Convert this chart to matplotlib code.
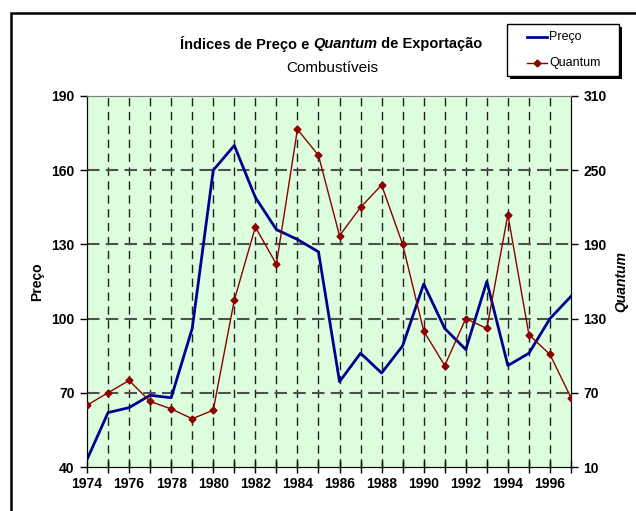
import matplotlib
matplotlib.use("Agg")
import matplotlib.pyplot as plt
from matplotlib.patches import Rectangle
from matplotlib.lines import Line2D

plt.rcParams['font.family'] = ['Liberation Sans', 'DejaVu Sans']

years = list(range(1974, 1998))
preco = [43, 62, 64, 69, 68, 96, 160, 170, 149, 136, 132, 127,
         74.5, 86, 78, 89, 114, 96, 87.5, 115, 81, 86, 100, 109]
quantum = [60, 70, 80, 63, 57, 49, 56, 145, 204, 174, 283, 262,
           197, 220, 238, 190, 120, 92, 130, 122, 214, 117, 101, 66]
left_ticks = [40, 70, 100, 130, 160, 190]
right_ticks = [10, 70, 130, 190, 250, 310]
xlabels = list(range(1974, 1998, 2))

W, H = 636, 511
fig = plt.figure(figsize=(W/100, H/100), dpi=100)
fig.patch.set_facecolor('white')

# outer frame
fig.patches.append(Rectangle((11/W, -0.05), 1.2, (H-13)/H + 0.05, transform=fig.transFigure,
                             fill=False, edgecolor='black', linewidth=1.8))

L, R, T, B = 87, 571, 96, 467
ax = fig.add_axes([L/W, 1-B/H, (R-L)/W, (B-T)/H])
ax.set_facecolor('#DDFEDD')
ax.set_xlim(1974, 1997)
ax.set_ylim(40, 190)
ax2 = ax.twinx()
ax2.set_ylim(10, 310)

# gridlines
for yr in years[1:-1]:
    ax.plot([yr, yr], [40, 190], color='#202020', linestyle=(0, (6, 4)), linewidth=1, zorder=1)
for v in left_ticks[1:-1]:
    ax.plot([1974, 1997], [v, v], color='#505050', linestyle=(0, (6, 3)), linewidth=1.5, zorder=1)

ax.plot(years, preco, color='#000090', linewidth=2, zorder=3)
ax2.plot(years, quantum, color='#8B0000', linewidth=1, marker='D', markersize=3.5, zorder=3)

fs = 10
ax.set_xticks(years)
ax.set_xticklabels([str(y) if y in xlabels else '' for y in years], fontweight='bold', fontsize=fs)
ax.set_yticks(left_ticks)
ax.set_yticklabels([str(v) for v in left_ticks], fontweight='bold', fontsize=fs)
ax2.set_yticks(right_ticks)
ax2.set_yticklabels([str(v) for v in right_ticks], fontweight='bold', fontsize=fs)
ax.tick_params(axis='x', direction='inout', length=8, width=1, pad=3)
ax.tick_params(axis='y', direction='out', length=5, width=1, pad=4)
ax2.tick_params(axis='y', direction='out', length=5, width=1, pad=4)

for a in (ax, ax2):
    a.spines['top'].set_color('#808080')
    a.spines['left'].set_color('black')
    a.spines['bottom'].set_color('black')
    a.spines['right'].set_color('black')

fig.text(37/W, 1-282/H, 'Preço', rotation=90, fontweight='bold', fontsize=fs, ha='center', va='center')
fig.text(621/W, 1-282/H, 'Quantum', rotation=90, fontweight='bold', style='italic', fontsize=fs, ha='center', va='center')

# title built from pieces
parts = [('Índices de Preço e ', 'normal'), ('Quantum', 'italic'), (' de Exportação', 'normal')]
tfs = 10.5
renderer = fig.canvas.get_renderer()
texts = []
widths = []
for s, st in parts:
    t = fig.text(0, 1-44/H, s, fontweight='bold', style=st, fontsize=tfs, ha='left', va='center')
    bb = t.get_window_extent(renderer=renderer)
    texts.append(t)
    widths.append(bb.width)
total = sum(widths)
x = 331 - total/2
for t, w in zip(texts, widths):
    t.set_x(x/W)
    x += w
fig.text(332/W, 1-68/H, 'Combustíveis', fontsize=11, ha='center', va='center')

# legend box
lx0, ly0, lx1, ly1 = 507, 24, 619, 76
fig.patches.append(Rectangle(((lx0+3)/W, 1-(ly1+3)/H), (lx1-lx0)/W, (ly1-ly0)/H, transform=fig.transFigure,
                             facecolor='black', edgecolor='black', linewidth=0))
fig.patches.append(Rectangle((lx0/W, 1-ly1/H), (lx1-lx0)/W, (ly1-ly0)/H, transform=fig.transFigure,
                             facecolor='white', edgecolor='black', linewidth=1))
fig.lines.append(Line2D([527/W, 547/W], [1-37/H, 1-37/H], transform=fig.transFigure, color='#000090', linewidth=2))
fig.lines.append(Line2D([527/W, 547/W], [1-63/H, 1-63/H], transform=fig.transFigure, color='#8B0000', linewidth=1))
fig.lines.append(Line2D([537/W], [1-63/H], transform=fig.transFigure, color='#8B0000', marker='D', markersize=3.5))
fig.text(549/W, 1-37/H, 'Preço', fontsize=9, ha='left', va='center')
fig.text(549/W, 1-63/H, 'Quantum', fontsize=9, ha='left', va='center')

fig.savefig('out.png', dpi=100)
